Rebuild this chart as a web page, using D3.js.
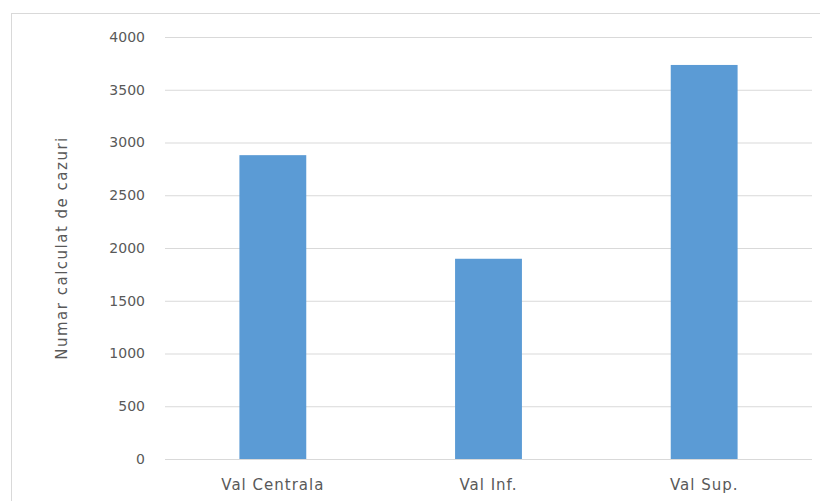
<!DOCTYPE html>
<html><head><meta charset="utf-8">
<script src="https://cdn.jsdelivr.net/npm/d3@7"></script>
<style>body{margin:0;background:#fff}svg{display:block}</style>
</head><body>
<script>
const categories = ["Val Centrala", "Val Inf.", "Val Sup."];
const values = [2880, 1898, 3735];
const yTicks = [0, 500, 1000, 1500, 2000, 2500, 3000, 3500, 4000];
const yTitle = "Numar calculat de cazuri";

const W = 820, H = 501;
const svg = d3.select("body").append("svg").attr("width", W).attr("height", H);
svg.append("rect").attr("x", 11.5).attr("y", 13.5).attr("width", 830).attr("height", 520)
  .attr("fill", "#fff").attr("stroke", "#d9d9d9").attr("stroke-width", 1);

const m = {left: 165, right: 812, top: 37, bottom: 459};
const x = d3.scaleBand().domain(categories).range([m.left, m.right]).paddingInner(0.69).paddingOuter(0.345);
const y = d3.scaleLinear().domain([0, 4000]).range([m.bottom, m.top]);

const font = "'DejaVu Sans', sans-serif";
const grid = svg.append("g").attr("transform", `translate(${m.left},0)`)
  .call(d3.axisLeft(y).tickValues(yTicks).tickSize(-(m.right - m.left)).tickFormat(""));
grid.select(".domain").remove();
grid.selectAll("line").attr("stroke", "#d9d9d9").attr("stroke-width", 1);

const ya = svg.append("g").attr("transform", `translate(145,0)`)
  .call(d3.axisLeft(y).tickValues(yTicks).tickSize(0).tickPadding(0).tickFormat(d3.format("d")));
ya.select(".domain").remove();
ya.selectAll("text").attr("fill", "#595959").style("font-family", font).style("font-size", "14px");

svg.append("g").selectAll("rect").data(values).join("rect")
  .attr("x", (d, i) => x(categories[i]))
  .attr("width", x.bandwidth())
  .attr("y", d => y(d))
  .attr("height", d => y(0) - y(d))
  .attr("fill", "#5b9bd5");

const xa = svg.append("g").attr("transform", `translate(0,${m.bottom})`)
  .call(d3.axisBottom(x).tickSize(0).tickPadding(20));
xa.select(".domain").remove();
xa.selectAll("text").attr("fill", "#595959").style("font-family", font).style("font-size", "15px")
  .style("letter-spacing", "1px");

svg.append("text").attr("transform", `translate(62,${(m.top + m.bottom) / 2}) rotate(-90)`)
  .attr("text-anchor", "middle").attr("dominant-baseline", "central").attr("fill", "#595959")
  .style("font-family", font).style("font-size", "15px").style("letter-spacing", "1.5px").text(yTitle);
</script>
</body></html>
